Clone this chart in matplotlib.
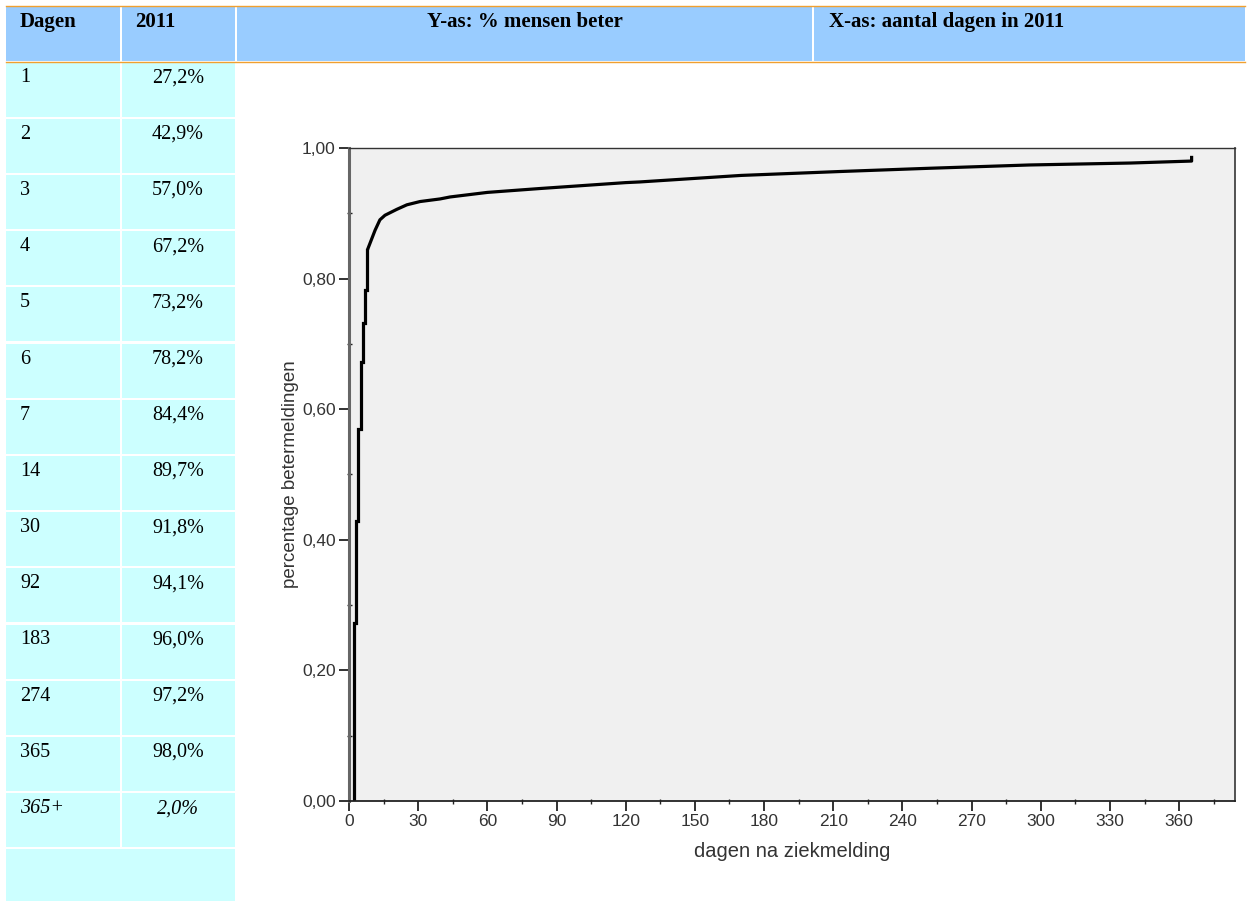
import numpy as np
import matplotlib
matplotlib.use('Agg')
import matplotlib.pyplot as plt
from matplotlib.patches import Rectangle
from matplotlib.ticker import FixedLocator, FixedFormatter

#------------- data -------------#
# table on the left
table_days = ['1', '2', '3', '4', '5', '6', '7', '14', '30', '92', '183', '274', '365', '365+']
table_pct = ['27,2%', '42,9%', '57,0%', '67,2%', '73,2%', '78,2%', '84,4%',
             '89,7%', '91,8%', '94,1%', '96,0%', '97,2%', '98,0%', '2,0%']
header_labels = ['Dagen', '2011', 'Y-as: % mensen beter', 'X-as: aantal dagen in 2011']

# curve: first days are steps, then a smooth tail
step_days = [2, 2, 3, 4, 5, 6, 7, 8]
step_frac = [0.0, 0.272, 0.429, 0.570, 0.672, 0.732, 0.782, 0.844]
tail_days = [8, 9.1, 11.3, 13.4, 15.6, 20.7, 25.1, 30.8, 39.5, 43.8, 60, 83, 120, 126,
             170, 213, 252, 295, 339, 365.4, 365.4]
tail_frac = [0.844, 0.854, 0.874, 0.890, 0.897, 0.906, 0.913, 0.918, 0.922,
             0.925, 0.932, 0.938, 0.947, 0.948, 0.958, 0.964, 0.969, 0.974, 0.977, 0.980, 0.988]

x_ticks = [0, 30, 60, 90, 120, 150, 180, 210, 240, 270, 300, 330, 360]
y_ticks = [0.0, 0.2, 0.4, 0.6, 0.8, 1.0]
y_tick_labels = ['0,00', '0,20', '0,40', '0,60', '0,80', '1,00']

#------------- figure -------------#
W, H = 1249, 901
fig = plt.figure(figsize=(W / 100, H / 100), dpi=100)
fig.patch.set_facecolor('white')

## background axes in pixel units for the table ##
bg = fig.add_axes([0, 0, 1, 1])
bg.set_xlim(0, W)
bg.set_ylim(H, 0)
bg.axis('off')

HEAD_BLUE = '#99CCFF'
CELL_CYAN = '#CCFFFF'
ORANGE = '#F0A030'
serif = 'Liberation Serif'

# header cells
head_cols = [(6, 120), (122, 235), (237, 812), (814, 1245)]
for (x0, x1) in head_cols:
    bg.add_patch(Rectangle((x0, 6), x1 - x0, 55, facecolor=HEAD_BLUE, edgecolor='none'))
bg.plot([6, 1245], [5.5, 5.5], color=ORANGE, lw=1.0)
bg.plot([6, 1245], [61.5, 61.5], color=ORANGE, lw=1.0)

bg.text(20, 27, header_labels[0], fontfamily=serif, fontweight='bold', fontsize=15, va='baseline', ha='left')
bg.text(135, 27, header_labels[1], fontfamily=serif, fontweight='bold', fontsize=15, va='baseline', ha='left')
bg.text(525, 27, header_labels[2], fontfamily=serif, fontweight='bold', fontsize=15, va='baseline', ha='center')
bg.text(829, 27, header_labels[3], fontfamily=serif, fontweight='bold', fontsize=15, va='baseline', ha='left')

# body rows
ROW_TOP = 62.5
ROW_STEP = 56.2
for i, (d, p) in enumerate(zip(table_days, table_pct)):
    top = ROW_TOP + i * ROW_STEP
    for (x0, x1) in head_cols[:2]:
        bg.add_patch(Rectangle((x0, top), x1 - x0, ROW_STEP - 2.2, facecolor=CELL_CYAN, edgecolor='none'))
    style = 'italic' if d.endswith('+') else 'normal'
    bg.text(20, top + 20, d, fontfamily=serif, fontsize=14.5, style=style, va='baseline', ha='left')
    bg.text(178, top + 20, p, fontfamily=serif, fontsize=14.5, style=style, va='baseline', ha='center')

# last empty merged row
top = ROW_TOP + len(table_days) * ROW_STEP
bg.add_patch(Rectangle((6, top), 235 - 6, H - top, facecolor=CELL_CYAN, edgecolor='none'))

#------------- chart -------------#
L, R, T, B = 349, 1235, 148, 801
ax = fig.add_axes([L / W, (H - B) / H, (R - L) / W, (B - T) / H])
ax.set_facecolor('#F0F0F0')

ax.step(step_days, step_frac, where='post', color='black', lw=2.3, solid_joinstyle='miter')
ax.plot(tail_days, tail_frac, color='black', lw=2.3, solid_capstyle='butt')

ax.set_xlim(0, (R - L) / 2.306)
ax.set_ylim(0, 1)

sans = 'Liberation Sans'
ax.xaxis.set_major_locator(FixedLocator(x_ticks))
ax.xaxis.set_minor_locator(FixedLocator([t + 15 for t in x_ticks]))
ax.yaxis.set_major_locator(FixedLocator(y_ticks))
ax.yaxis.set_major_formatter(FixedFormatter(y_tick_labels))
ax.yaxis.set_minor_locator(FixedLocator([t + 0.1 for t in y_ticks[:-1]]))

ax.tick_params(which='major', direction='out', length=7.5, width=1.3, color='#222222',
               labelsize=12.5, pad=2, labelcolor='#333333')
ax.tick_params(which='minor', direction='inout', length=3.6, width=1.0, color='#222222')
for lab in ax.get_xticklabels() + ax.get_yticklabels():
    lab.set_fontfamily(sans)

ax.spines['left'].set_color('#666666')
ax.spines['left'].set_linewidth(2.2)
ax.spines['bottom'].set_color('#222222')
ax.spines['bottom'].set_linewidth(1.3)
ax.spines['top'].set_color('#333333')
ax.spines['top'].set_linewidth(1.0)
ax.spines['right'].set_color('#444444')
ax.spines['right'].set_linewidth(1.3)

ax.set_xlabel('dagen na ziekmelding', fontfamily=sans, fontsize=14.5, color='#333333', labelpad=9)
ax.set_ylabel('percentage betermeldingen', fontfamily=sans, fontsize=13.5, color='#333333', labelpad=2)

fig.savefig('out.png', dpi=100)
